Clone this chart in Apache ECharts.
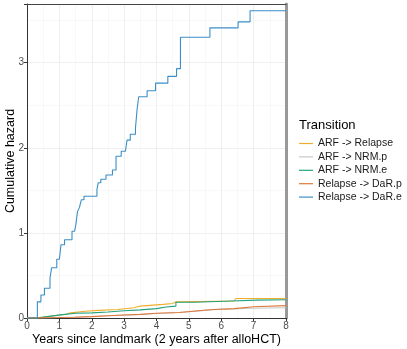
<!DOCTYPE html>
<html>
<head>
<meta charset="utf-8">
<script src="https://cdn.jsdelivr.net/npm/echarts@6/dist/echarts.min.js"></script>
<style>
  html, body { margin: 0; padding: 0; background: #fff; }
  #chart { width: 407px; height: 349px; }
</style>
</head>
<body>
<div id="chart"></div>
<script>
// Courbes de hasard cumulé (fonctions en escalier).
const transitions = ['ARF -> Relapse', 'ARF -> NRM.p', 'ARF -> NRM.e', 'Relapse -> DaR.p', 'Relapse -> DaR.e'];
const colors = ['#f0ae2e', '#c8c8c8', '#24a37c', '#e0783a', '#3b8ec6'];

const arfRelapse = [[0,0],[0.3,0.015],[0.6,0.03],[0.9,0.045],[1.2,0.06],[1.35,0.08],[1.8,0.09],[2.2,0.1],[2.8,0.12],[3.3,0.14],[3.5,0.16],[4.2,0.17],[4.5,0.19],[4.6,0.2],[6.4,0.205],[6.45,0.23],[8,0.23]];
const arfNrmP = [[0,0],[0.5,0.005],[1,0.01],[1.5,0.018],[2,0.026],[2.5,0.034],[3,0.042],[3.5,0.053],[4,0.064],[4.7,0.084],[5.3,0.098],[5.75,0.105],[6.4,0.115],[6.9,0.12],[8,0.12]];
const arfNrmE = [[0,0],[0.25,0.01],[0.5,0.025],[0.8,0.04],[1.1,0.055],[1.5,0.06],[2,0.07],[2.5,0.085],[3,0.095],[3.5,0.11],[4,0.13],[4.3,0.14],[4.6,0.185],[5.2,0.2],[6.3,0.21],[7.1,0.215],[8,0.215]];
const relapseDarP = [[0,0.003],[0.5,0.005],[1,0.009],[1.5,0.016],[2,0.027],[2.5,0.035],[3,0.043],[3.5,0.055],[4,0.065],[4.7,0.086],[5.3,0.1],[5.75,0.11],[6.4,0.133],[7,0.145],[8,0.145]];
const relapseDarE = [[0,0],[0.32,0.19],[0.43,0.27],[0.54,0.35],[0.71,0.47],[0.76,0.59],[0.92,0.69],[1.0,0.71],[1.05,0.86],[1.16,0.92],[1.39,1.02],[1.47,1.04],[1.51,1.10],[1.56,1.25],[1.62,1.30],[1.68,1.39],[1.76,1.43],[2.16,1.51],[2.2,1.59],[2.28,1.63],[2.44,1.68],[2.64,1.74],[2.75,1.90],[2.91,1.96],[3.04,1.98],[3.09,2.09],[3.19,2.16],[3.35,2.23],[3.40,2.45],[3.45,2.60],[3.71,2.67],[3.97,2.76],[4.35,2.84],[4.62,2.93],[4.74,3.30],[5.65,3.41],[6.52,3.48],[6.89,3.61],[8,3.61]];

const xTicks = [0, 1, 2, 3, 4, 5, 6, 7, 8];
const yTicks = [0, 1, 2, 3];

const allData = [arfRelapse, arfNrmP, arfNrmE, relapseDarP, relapseDarE];

const chart = echarts.init(document.getElementById('chart'), null, { renderer: 'canvas' });
const axisText = { color: '#4d4d4d', fontSize: 10, fontFamily: 'Liberation Sans' };
const grid = { color: '#ebebeb', width: 0.8 };

chart.setOption({
  animation: false,
  backgroundColor: '#fff',
  textStyle: { fontFamily: 'Liberation Sans' },
  title: {
    text: 'Transition', left: 294, top: 114,
    textStyle: { fontSize: 13, fontWeight: 'normal', color: '#000', fontFamily: 'Liberation Sans' },
  },
  legend: {
    orient: 'vertical', left: 294, top: 133, icon: 'rect',
    itemWidth: 14, itemHeight: 1.2, itemGap: 2.4,
    textStyle: { fontSize: 10.5, color: '#1a1a1a', fontFamily: 'Liberation Sans' },
    data: transitions,
  },
  grid: { left: 27, right: 121, top: 4, bottom: 31, outerBoundsMode: 'none' },
  xAxis: [{
    type: 'value', min: 0, max: 8, interval: 1,
    axisLine: { show: true, onZero: false, lineStyle: { color: '#333', width: 1 } },
    axisTick: { show: true, length: 3, lineStyle: { color: '#333' } },
    axisLabel: { ...axisText, margin: 3, formatter: (v) => (xTicks.includes(v) ? String(v) : '') },
    splitLine: { show: true, lineStyle: grid },
    minorTick: { show: false, splitNumber: 2 },
    minorSplitLine: { show: true, lineStyle: { color: '#f4f4f4', width: 0.6 } },
    name: 'Years since landmark (2 years after alloHCT)', nameLocation: 'middle', nameGap: 15,
    nameMoveOverlap: false,
    nameTextStyle: { fontSize: 12.5, color: '#000', fontFamily: 'Liberation Sans' },
  }, {
    type: 'value', position: 'top', min: 0, max: 8,
    axisLine: { show: true, onZero: false, lineStyle: { color: '#444', width: 1 } },
    axisTick: { show: false }, axisLabel: { show: false }, splitLine: { show: false },
  }],
  yAxis: [{
    type: 'value', min: 0, max: 3.69, interval: 1,
    axisLine: { show: true, onZero: false, lineStyle: { color: '#333', width: 1 } },
    axisTick: { show: true, length: 3, lineStyle: { color: '#333' } },
    axisLabel: { ...axisText, margin: 3, formatter: (v) => (yTicks.includes(v) ? String(v) : '') },
    splitLine: { show: true, lineStyle: grid },
    minorTick: { show: false, splitNumber: 2 },
    minorSplitLine: { show: true, lineStyle: { color: '#f4f4f4', width: 0.6 } },
    name: 'Cumulative hazard', nameLocation: 'middle', nameGap: 10,
    nameMoveOverlap: false,
    nameTextStyle: { fontSize: 12.5, color: '#000', fontFamily: 'Liberation Sans' },
  }, {
    type: 'value', position: 'right', min: 0, max: 3.69,
    axisLine: { show: true, onZero: false, lineStyle: { color: '#999', width: 3 } },
    axisTick: { show: false }, axisLabel: { show: false }, splitLine: { show: false },
  }],
  series: transitions.map((name, i) => ({
    name, type: 'line', step: 'end', showSymbol: false, symbol: 'none',
    data: allData[i],
    lineStyle: { width: 1.1, color: colors[i] },
    itemStyle: { color: colors[i] },
    z: 2 + i,
  })),
});
</script>
</body>
</html>
